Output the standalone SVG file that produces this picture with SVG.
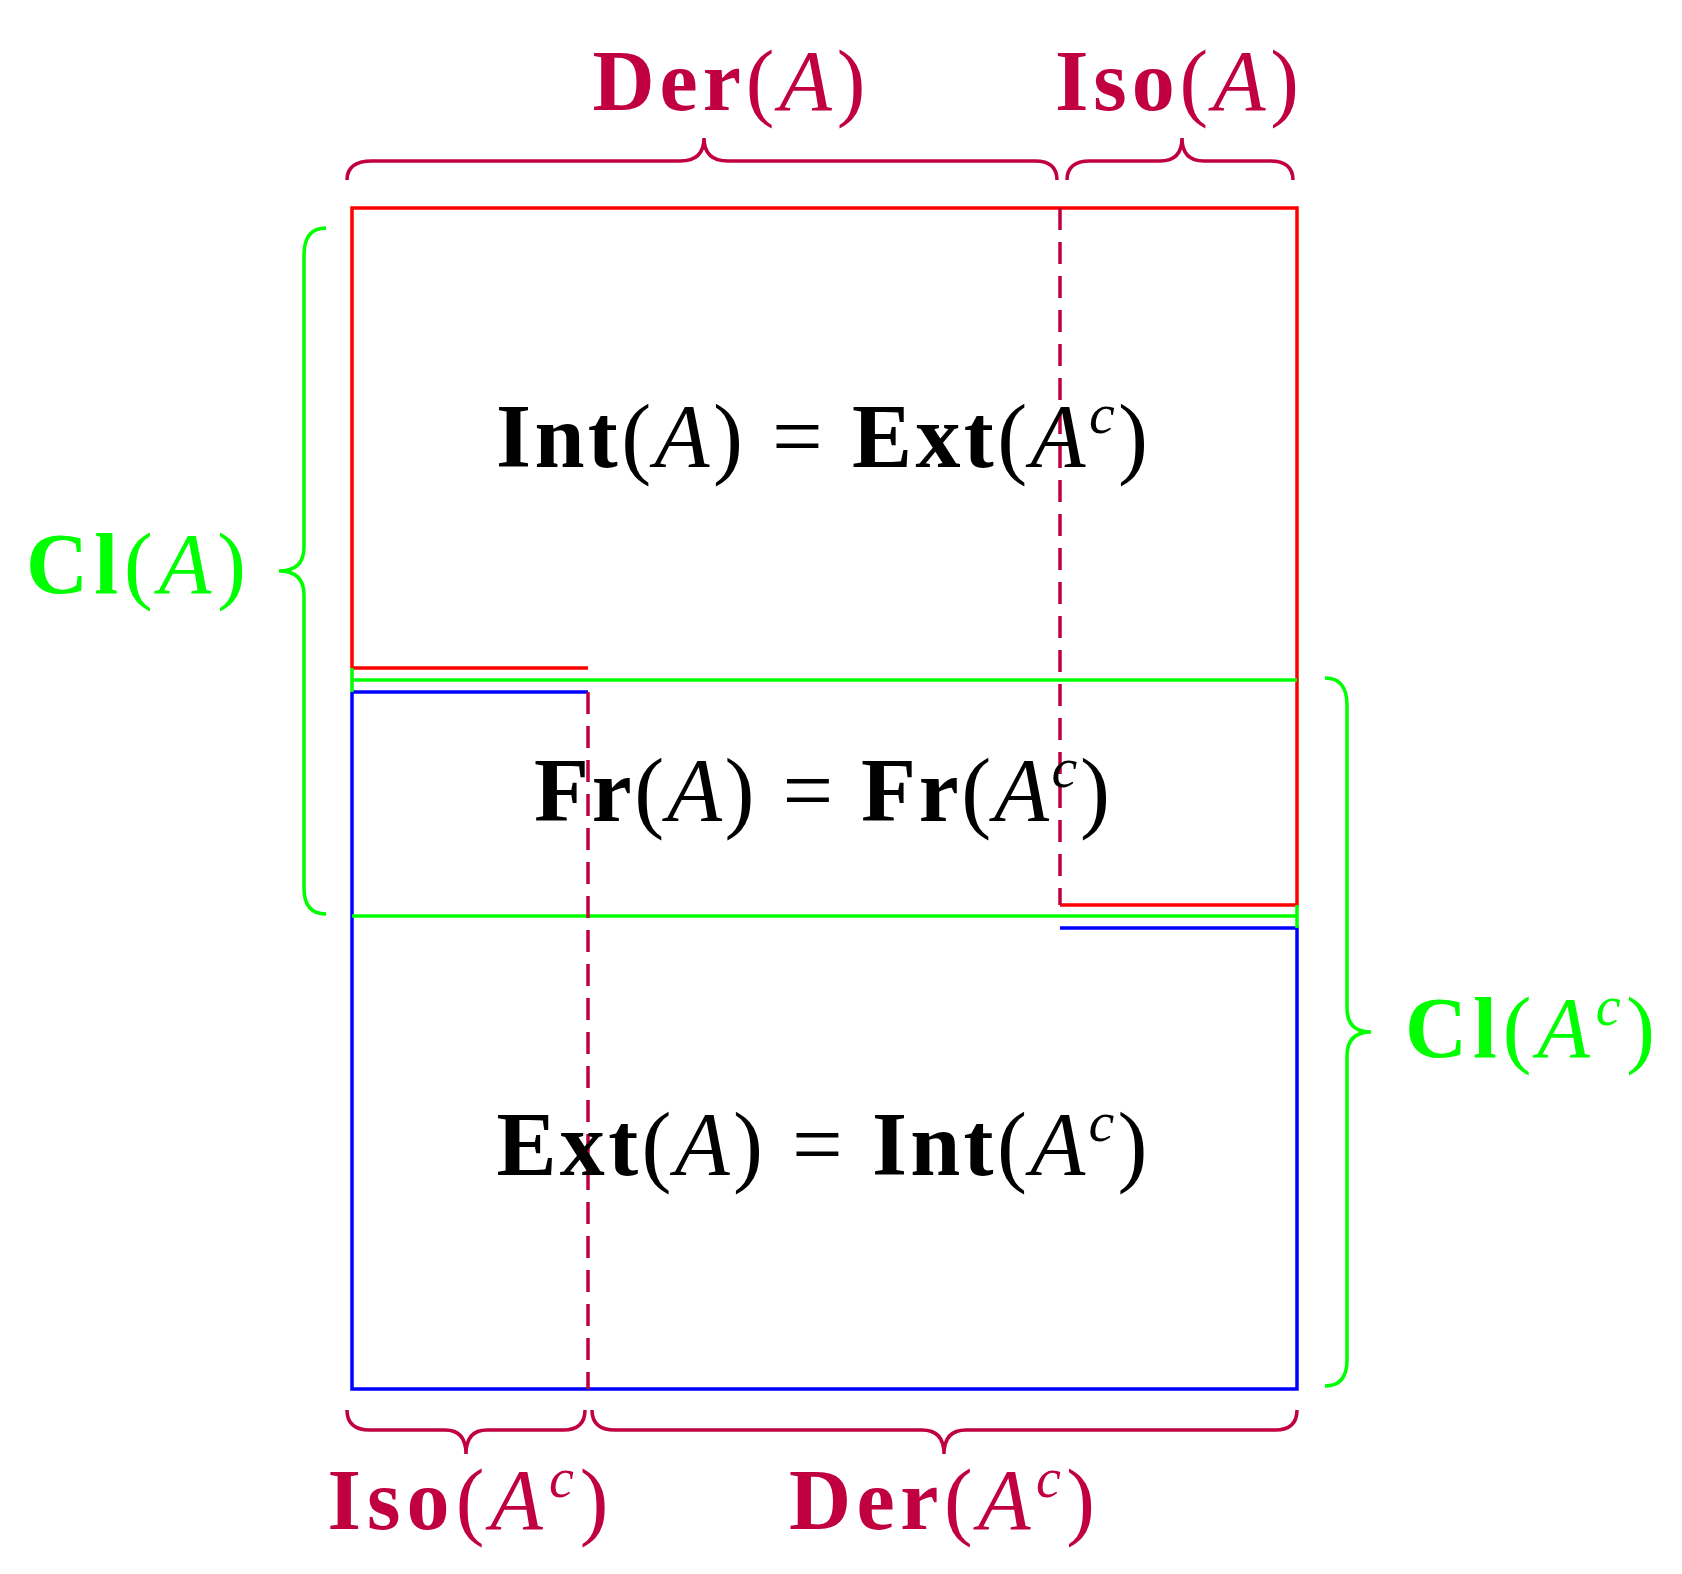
<svg xmlns="http://www.w3.org/2000/svg" width="1682" height="1574" viewBox="0 0 1682 1574">
<style>
.l{fill:none;stroke-width:3.5}
.r{stroke:#ff0000}.g{stroke:#00ff00}.b{stroke:#0000ff}.p{stroke:#c0003f}
.d{stroke:#c0003f;stroke-dasharray:22,12}
text{font-family:"Liberation Serif",serif;text-anchor:middle}
.t{font-size:90px;fill:#000}
.lb{font-size:86px}
.pt{fill:#c0003f}.gt{fill:#00ff00}
.i{font-style:italic;font-weight:normal}
.n{font-weight:normal}
</style>
<g id="connectors">
<path class="l r" d="M352,668 V208 H1297 V905 H1060 M352,668 H588"/>
<path class="l b" d="M352,692 H588 M352,692 V1389 H1297 V928 H1060"/>
<path class="l g" d="M352,680 H1297 M352,916 H1297 M352,668 V692 M1297,905 V928"/>
<path class="l d" d="M1060,208 V905 M588,692 V1389"/>
<path class="l p" d="M347,180 Q347,161 372,161 H680 Q704,161 704,138 Q704,161 728,161 H1035 Q1057,161 1057,180"/>
<path class="l p" d="M1067,180 Q1067,161 1090,161 H1160 Q1182,161 1182,138 Q1182,161 1204,161 H1270 Q1293,161 1293,180"/>
<path class="l p" d="M347,1410 Q347,1430 370,1430 H445 Q466,1430 466,1454 Q466,1430 487,1430 H563 Q585,1430 585,1410"/>
<path class="l p" d="M592,1410 Q592,1430 615,1430 H922 Q944,1430 944,1454 Q944,1430 966,1430 H1275 Q1297,1430 1297,1410"/>
<path class="l g" d="M326,228 Q304,228 304,255 V547 Q304,571 279,571 Q304,571 304,595 V888 Q304,914 326,914"/>
<path class="l g" d="M1325,678 Q1347,678 1347,705 V1008 Q1347,1032 1371,1032 Q1347,1032 1347,1056 V1360 Q1347,1386 1325,1386"/>
</g>
<g id="n1"><text class="t" x="822" y="467" textLength="652" lengthAdjust="spacing"><tspan font-weight="bold">Int</tspan><tspan class="n">(</tspan><tspan class="i">A</tspan><tspan class="n">) = </tspan><tspan font-weight="bold">Ext</tspan><tspan class="n">(</tspan><tspan class="i">A</tspan><tspan class="i" font-size="58" dy="-34">c</tspan><tspan class="n" dy="34">)</tspan></text></g>
<g id="n2"><text class="t" x="822" y="821" textLength="576" lengthAdjust="spacing"><tspan font-weight="bold">Fr</tspan><tspan class="n">(</tspan><tspan class="i">A</tspan><tspan class="n">) = </tspan><tspan font-weight="bold">Fr</tspan><tspan class="n">(</tspan><tspan class="i">A</tspan><tspan class="i" font-size="58" dy="-34">c</tspan><tspan class="n" dy="34">)</tspan></text></g>
<g id="n3"><text class="t" x="822" y="1175" textLength="651" lengthAdjust="spacing"><tspan font-weight="bold">Ext</tspan><tspan class="n">(</tspan><tspan class="i">A</tspan><tspan class="n">) = </tspan><tspan font-weight="bold">Int</tspan><tspan class="n">(</tspan><tspan class="i">A</tspan><tspan class="i" font-size="58" dy="-34">c</tspan><tspan class="n" dy="34">)</tspan></text></g>
<g id="l1"><text class="lb pt" x="729" y="110" textLength="273" lengthAdjust="spacing"><tspan font-weight="bold">Der</tspan><tspan class="n">(</tspan><tspan class="i">A</tspan><tspan class="n">)</tspan></text></g>
<g id="l2"><text class="lb pt" x="1177" y="110" textLength="244" lengthAdjust="spacing"><tspan font-weight="bold">Iso</tspan><tspan class="n">(</tspan><tspan class="i">A</tspan><tspan class="n">)</tspan></text></g>
<g id="l3"><text class="lb gt" x="136" y="593" textLength="220" lengthAdjust="spacing"><tspan font-weight="bold">Cl</tspan><tspan class="n">(</tspan><tspan class="i">A</tspan><tspan class="n">)</tspan></text></g>
<g id="l4"><text class="lb gt" x="1530" y="1057" textLength="250" lengthAdjust="spacing"><tspan font-weight="bold">Cl</tspan><tspan class="n">(</tspan><tspan class="i">A</tspan><tspan class="i" font-size="56" dy="-32">c</tspan><tspan class="n" dy="32">)</tspan></text></g>
<g id="l5"><text class="lb pt" x="468" y="1529" textLength="281" lengthAdjust="spacing"><tspan font-weight="bold">Iso</tspan><tspan class="n">(</tspan><tspan class="i">A</tspan><tspan class="i" font-size="56" dy="-32">c</tspan><tspan class="n" dy="32">)</tspan></text></g>
<g id="l6"><text class="lb pt" x="942" y="1529" textLength="306" lengthAdjust="spacing"><tspan font-weight="bold">Der</tspan><tspan class="n">(</tspan><tspan class="i">A</tspan><tspan class="i" font-size="56" dy="-32">c</tspan><tspan class="n" dy="32">)</tspan></text></g>
</svg>
